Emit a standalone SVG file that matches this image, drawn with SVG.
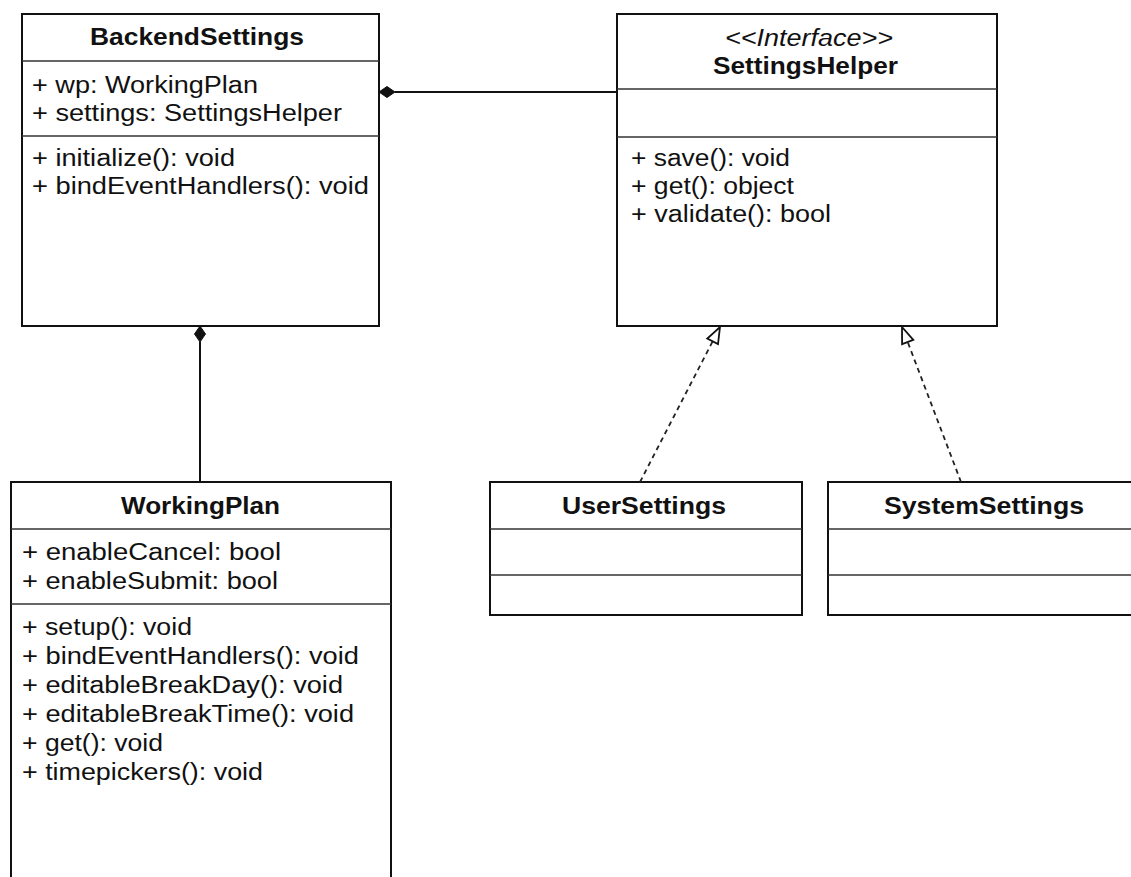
<svg xmlns="http://www.w3.org/2000/svg" width="1131" height="877" viewBox="0 0 1131 877">
<style>
.box{fill:#fff;stroke:#111;stroke-width:2}
.sep{stroke:#333;stroke-width:1.6}
.t{font-family:"Liberation Sans",Arial,Helvetica,sans-serif;font-size:23px;fill:#111}
.b{font-weight:bold}
.i{font-style:italic}
.ln{stroke:#111;stroke-width:2;fill:none}
.dash{stroke:#222;stroke-width:1.8;fill:none;stroke-dasharray:5 4}
.dia{fill:#111;stroke:#111;stroke-width:1}
.tri{fill:#fff;stroke:#111;stroke-width:1.8}
</style>
<rect width="1131" height="877" fill="#fff"/>
<g id="BackendSettings">
<rect class="box" x="22" y="14" width="357" height="312"/>
<line class="sep" x1="22" y1="61" x2="379" y2="61"/>
<line class="sep" x1="22" y1="136" x2="379" y2="136"/>
<text class="t b" x="90" y="45" textLength="214" lengthAdjust="spacingAndGlyphs">BackendSettings</text>
<text class="t" x="32" y="93" textLength="226" lengthAdjust="spacingAndGlyphs">+ wp: WorkingPlan</text>
<text class="t" x="32" y="121" textLength="310" lengthAdjust="spacingAndGlyphs">+ settings: SettingsHelper</text>
<text class="t" x="32" y="166" textLength="203" lengthAdjust="spacingAndGlyphs">+ initialize(): void</text>
<text class="t" x="32" y="194" textLength="337" lengthAdjust="spacingAndGlyphs">+ bindEventHandlers(): void</text>
</g>
<g id="SettingsHelper">
<rect class="box" x="617" y="14" width="380" height="312"/>
<line class="sep" x1="617" y1="89" x2="997" y2="89"/>
<line class="sep" x1="617" y1="137" x2="997" y2="137"/>
<text class="t i" x="725" y="46" textLength="168" lengthAdjust="spacingAndGlyphs">&lt;&lt;Interface&gt;&gt;</text>
<text class="t b" x="713" y="74" textLength="185" lengthAdjust="spacingAndGlyphs">SettingsHelper</text>
<text class="t" x="631" y="166" textLength="159" lengthAdjust="spacingAndGlyphs">+ save(): void</text>
<text class="t" x="631" y="194" textLength="163" lengthAdjust="spacingAndGlyphs">+ get(): object</text>
<text class="t" x="631" y="222" textLength="200" lengthAdjust="spacingAndGlyphs">+ validate(): bool</text>
</g>
<g id="WorkingPlan">
<rect class="box" x="11" y="482" width="380" height="420"/>
<line class="sep" x1="11" y1="529" x2="391" y2="529"/>
<line class="sep" x1="11" y1="604" x2="391" y2="604"/>
<text class="t b" x="121" y="514" textLength="159" lengthAdjust="spacingAndGlyphs">WorkingPlan</text>
<text class="t" x="22" y="560" textLength="259" lengthAdjust="spacingAndGlyphs">+ enableCancel: bool</text>
<text class="t" x="22" y="589" textLength="256" lengthAdjust="spacingAndGlyphs">+ enableSubmit: bool</text>
<text class="t" x="22" y="635" textLength="170" lengthAdjust="spacingAndGlyphs">+ setup(): void</text>
<text class="t" x="22" y="664" textLength="337" lengthAdjust="spacingAndGlyphs">+ bindEventHandlers(): void</text>
<text class="t" x="22" y="693" textLength="321" lengthAdjust="spacingAndGlyphs">+ editableBreakDay(): void</text>
<text class="t" x="22" y="722" textLength="332" lengthAdjust="spacingAndGlyphs">+ editableBreakTime(): void</text>
<text class="t" x="22" y="751" textLength="141" lengthAdjust="spacingAndGlyphs">+ get(): void</text>
<text class="t" x="22" y="780" textLength="241" lengthAdjust="spacingAndGlyphs">+ timepickers(): void</text>
</g>
<g id="UserSettings">
<rect class="box" x="490" y="482" width="312" height="133"/>
<line class="sep" x1="490" y1="529" x2="802" y2="529"/>
<line class="sep" x1="490" y1="575" x2="802" y2="575"/>
<text class="t b" x="562" y="514" textLength="164" lengthAdjust="spacingAndGlyphs">UserSettings</text>
</g>
<g id="SystemSettings">
<rect class="box" x="828" y="482" width="312" height="133"/>
<line class="sep" x1="828" y1="529" x2="1140" y2="529"/>
<line class="sep" x1="828" y1="575" x2="1140" y2="575"/>
<text class="t b" x="884" y="514" textLength="200" lengthAdjust="spacingAndGlyphs">SystemSettings</text>
</g>
<g id="connectors">
<line class="ln" x1="395" y1="92" x2="617" y2="92"/>
<polygon class="dia" points="379,92 387,86.5 395,92 387,97.5"/>
<line class="ln" x1="200" y1="342" x2="200" y2="482"/>
<polygon class="dia" points="200,326 194.5,334 200,342 205.5,334"/>
<line class="dash" x1="640" y1="482" x2="712.7" y2="341.2"/>
<polygon class="tri" points="720,327 718,344 707.3,338.5"/>
<line class="dash" x1="961" y1="482" x2="907.7" y2="342"/>
<polygon class="tri" points="902,327 913.3,339.8 902.1,344.1"/>
</g>
</svg>
